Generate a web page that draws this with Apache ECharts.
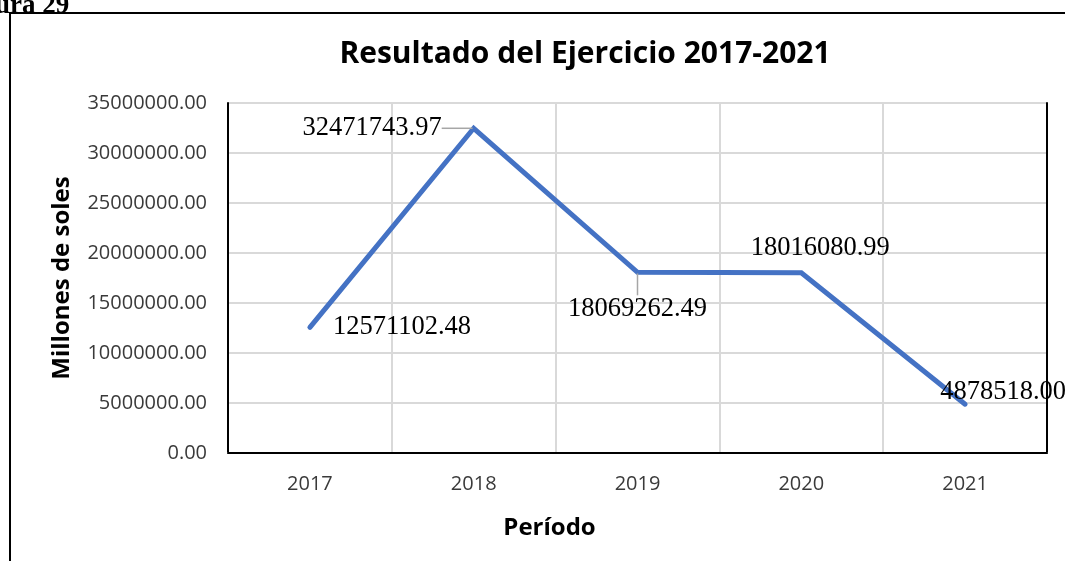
<!DOCTYPE html>
<html>
<head>
<meta charset="utf-8">
<script src="https://cdn.jsdelivr.net/npm/echarts@6/dist/echarts.min.js"></script>
<style>
  html, body { margin: 0; padding: 0; background: #fff; }
  #chart { width: 1065px; height: 561px; }
</style>
</head>
<body>
<div id="chart"></div>
<script>
  // datos
  var periodos = ['2017', '2018', '2019', '2020', '2021'];
  var resultado = [12571102.48, 32471743.97, 18069262.49, 18016080.99, 4878518.00];
  var yTicks = [0, 5000000, 10000000, 15000000, 20000000, 25000000, 30000000, 35000000];

  // posicion de cada etiqueta (igual que en el grafico de Excel)
  var etiquetas = [
    {position: 'right', distance: 22},
    {position: 'left', distance: 4, dx: -27, line: true},
    {position: 'bottom', distance: 4, dy: 18, line: true},
    {position: 'top', distance: 10, dx: 19},
    {position: 'top', distance: 0, dx: 38, dy: 2}
  ];

  var puntos = resultado.map(function (v, i) {
    var e = etiquetas[i];
    return {
      value: v,
      label: {position: e.position, distance: e.distance},
      labelLine: {show: !!e.line, length2: 0, lineStyle: {color: '#a6a6a6', width: 1.5}}
    };
  });

  var myChart = echarts.init(document.getElementById('chart'));
  var option = {
    animation: false,
    backgroundColor: '#fff',
    graphic: [
      {
        type: 'rect', silent: true,
        shape: {x: 10, y: 13, width: 1200, height: 700},
        style: {fill: 'none', stroke: '#000', lineWidth: 2}
      },
      {
        type: 'text', left: -5, top: -7,
        style: {text: 'ura 29', font: 'bold 27px "Liberation Serif"', fill: '#000'}
      }
    ],
    title: {
      text: 'Resultado del Ejercicio 2017-2021',
      left: 580, top: 34, textAlign: 'center',
      textStyle: {fontFamily: 'Open Sans', fontWeight: 'bold', fontSize: 30, color: '#000'}
    },
    grid: {left: 228, right: 18, top: 103, bottom: 108, containLabel: false},
    xAxis: [
      {
        type: 'category',
        data: periodos,
        boundaryGap: true,
        name: 'Período',
        nameLocation: 'middle',
        nameGap: 63,
        nameTextStyle: {
          fontFamily: 'Open Sans', fontWeight: 'bold', fontSize: 24, color: '#000',
          padding: [0, 176, 0, 0]
        },
        axisLine: {lineStyle: {color: '#d9d9d9', width: 2}},
        axisTick: {show: false},
        axisLabel: {fontFamily: 'Open Sans', fontSize: 20, color: '#3a3a3a', margin: 21},
        splitLine: {show: true, interval: 0, lineStyle: {color: '#d9d9d9', width: 2}}
      },
      {
        type: 'category',
        data: periodos,
        position: 'top',
        axisLine: {lineStyle: {color: '#000', width: 2}},
        axisTick: {show: false},
        axisLabel: {show: false},
        splitLine: {show: false}
      }
    ],
    yAxis: [
      {
        type: 'value',
        min: yTicks[0],
        max: yTicks[yTicks.length - 1],
        interval: yTicks[1] - yTicks[0],
        name: 'Millones de soles',
        nameLocation: 'middle',
        nameGap: 154,
        nameRotate: 90,
        nameTextStyle: {fontFamily: 'Open Sans', fontWeight: 'bold', fontSize: 24, color: '#000'},
        axisLine: {show: true, lineStyle: {color: '#000', width: 2}},
        axisTick: {show: false},
        axisLabel: {
          fontFamily: 'Open Sans', fontSize: 20, color: '#3a3a3a', margin: 21,
          formatter: function (v) { return v.toFixed(2); }
        },
        splitLine: {lineStyle: {color: '#d9d9d9', width: 2}}
      },
      {
        type: 'value',
        position: 'right',
        min: yTicks[0],
        max: yTicks[yTicks.length - 1],
        interval: yTicks[1] - yTicks[0],
        axisLine: {show: true, lineStyle: {color: '#000', width: 2}},
        axisTick: {show: false},
        axisLabel: {show: false},
        splitLine: {show: false}
      }
    ],
    series: [
      {
        name: 'Resultado',
        type: 'line',
        data: puntos,
        symbol: 'circle',
        symbolSize: 2,
        color: '#4472c4',
        lineStyle: {color: '#4472c4', width: 5, cap: 'round', join: 'miter'},
        label: {
          show: true,
          fontFamily: 'Liberation Serif',
          fontSize: 26.5,
          color: '#000',
          formatter: function (p) { return p.value.toFixed(2); }
        },
        labelLayout: function (p) {
          var e = etiquetas[p.dataIndex];
          return {dx: e.dx || 0, dy: e.dy || 0};
        },
        z: 5
      }
    ]
  };
  myChart.setOption(option);
</script>
</body>
</html>
